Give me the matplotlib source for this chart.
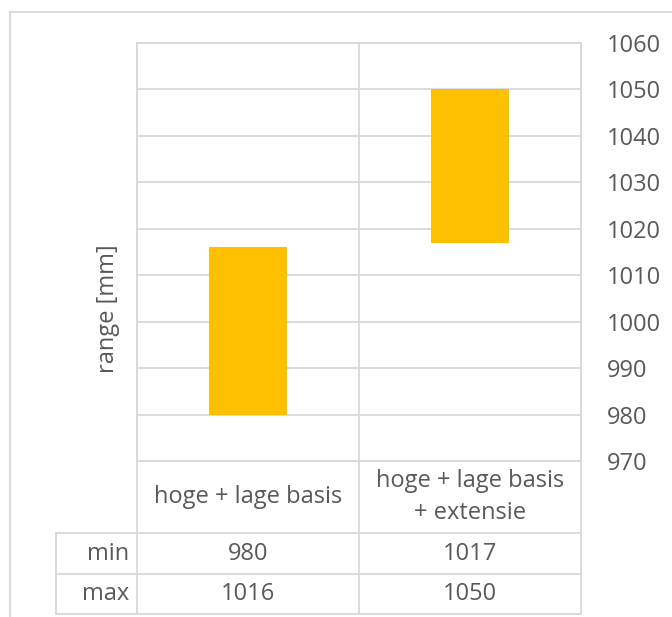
import numpy as np
import matplotlib
matplotlib.use("Agg")
import matplotlib.pyplot as plt

CATEGORIES = ["hoge + lage basis", "hoge + lage basis\n+ extensie"]
MIN_VALUES = [980, 1017]
MAX_VALUES = [1016, 1050]
ROW_LABELS = ["min", "max"]
Y_TICKS = [970, 980, 990, 1000, 1010, 1020, 1030, 1040, 1050, 1060]

BAR_COLOR = "#FFC000"
GRID_COLOR = "#D9D9D9"
TEXT_COLOR = "#595959"
FONT_SIZE = 17

plt.rcParams["font.family"] = ["Open Sans", "DejaVu Sans"]

W, H = 672, 617
fig = plt.figure(figsize=(W / 100, H / 100), dpi=100)

# pixel layout (like the excel chart)
PLOT_L, PLOT_R, PLOT_T, PLOT_B = 137, 581, 43, 461
ROW_CAT_B, ROW_MIN_B, ROW_MAX_B = 533, 574, 614
LABEL_COL_L = 56
FRAME_L, FRAME_T = 10, 12

ax = fig.add_axes([PLOT_L / W, 1 - PLOT_B / H, (PLOT_R - PLOT_L) / W, (PLOT_B - PLOT_T) / H])
ax.set_facecolor("none")
x = np.arange(len(CATEGORIES))
heights = np.array(MAX_VALUES) - np.array(MIN_VALUES)
ax.bar(x, heights, bottom=MIN_VALUES, width=0.35, color=BAR_COLOR, zorder=3)
ax.set_xlim(-0.5, len(CATEGORIES) - 0.5)
ax.set_ylim(Y_TICKS[0], Y_TICKS[-1])
ax.set_yticks(Y_TICKS)
ax.yaxis.tick_right()
ax.tick_params(axis="y", length=0, pad=18.5, labelsize=FONT_SIZE, labelcolor=TEXT_COLOR)
ax.set_xticks([])
ax.grid(axis="y", color=GRID_COLOR, linewidth=1.3, zorder=0)
for s in ax.spines.values():
    s.set_color(GRID_COLOR)
    s.set_linewidth(1.3)

# overlay for table + frame, pixel coords
ov = fig.add_axes([0, 0, 1, 1], zorder=-1)
ov.set_xlim(0, W)
ov.set_ylim(H, 0)
ov.axis("off")
lw = 1.3

# outer chart frame
ov.plot([FRAME_L, W], [FRAME_T, FRAME_T], color=GRID_COLOR, lw=lw)
ov.plot([FRAME_L, FRAME_L], [FRAME_T, H], color=GRID_COLOR, lw=lw)

col_w = (PLOT_R - PLOT_L) / len(CATEGORIES)
# vertical lines of the data table
for i in range(len(CATEGORIES) + 1):
    xp = PLOT_L + i * col_w
    ov.plot([xp, xp], [PLOT_T, ROW_MAX_B], color=GRID_COLOR, lw=lw)
ov.plot([LABEL_COL_L, LABEL_COL_L], [ROW_CAT_B, ROW_MAX_B], color=GRID_COLOR, lw=lw)
# horizontal lines
for yp in [ROW_CAT_B, ROW_MIN_B, ROW_MAX_B]:
    ov.plot([LABEL_COL_L, PLOT_R], [yp, yp], color=GRID_COLOR, lw=lw)

# category labels
for i, cat in enumerate(CATEGORIES):
    xc = PLOT_L + (i + 0.5) * col_w
    ov.text(xc, (PLOT_B + ROW_CAT_B) / 2, cat, ha="center", va="center",
            fontsize=FONT_SIZE, color=TEXT_COLOR, linespacing=1.4)

# table rows
rows = [MIN_VALUES, MAX_VALUES]
row_bounds = [(ROW_CAT_B, ROW_MIN_B), (ROW_MIN_B, ROW_MAX_B)]
for label, vals, (y0, y1) in zip(ROW_LABELS, rows, row_bounds):
    yc = (y0 + y1) / 2
    ov.text(PLOT_L - 8, yc, label, ha="right", va="center", fontsize=FONT_SIZE, color=TEXT_COLOR)
    for i, v in enumerate(vals):
        xc = PLOT_L + (i + 0.5) * col_w
        ov.text(xc, yc, str(v), ha="center", va="center", fontsize=FONT_SIZE, color=TEXT_COLOR)

# axis title
ov.text(108, 309, "range [mm]", rotation=90, ha="center", va="center",
        fontsize=FONT_SIZE, color=TEXT_COLOR)

fig.savefig("out.png", dpi=100, facecolor="white")
